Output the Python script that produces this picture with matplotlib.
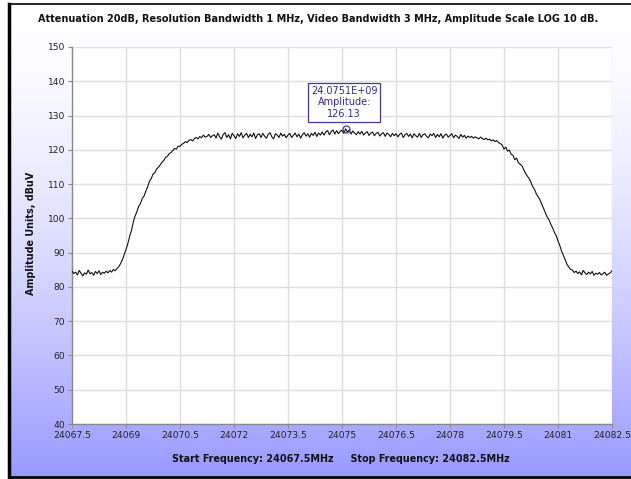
import numpy as np
import matplotlib
matplotlib.use("Agg")
import matplotlib.pyplot as plt
from matplotlib.lines import Line2D

# ---- data -----------------------------------------------------------
start_mhz = 24067.5
stop_mhz = 24082.5
n_points = 301

amplitude = [
    84.6, 83.9, 84.3, 83.5, 84.8, 84.0, 83.2, 84.1, 83.7, 84.9, 83.8, 84.2, 83.4, 84.5, 83.9, 84.7, 83.6, 84.3, 84.0, 84.6,
    84.1, 84.8, 84.3, 85.1, 84.7, 85.4, 85.9, 86.8, 87.9, 89.4, 90.9, 92.6, 94.7, 96.4, 98.8, 100.6, 101.9, 103.5, 104.3, 105.8,
    106.5, 107.9, 109.2, 110.8, 111.6, 112.9, 113.3, 114.4, 114.9, 115.6, 116.4, 116.9, 117.8, 118.1, 118.9, 119.2, 119.8, 120.4, 120.2, 121.1,
    121.0, 121.6, 121.9, 122.4, 122.1, 122.8, 123.0, 122.6, 123.3, 123.6, 123.2, 123.9, 123.5, 124.3, 123.7, 123.9, 124.5, 123.6, 124.1, 124.4,
    123.4, 124.9, 123.8, 123.1, 124.5, 125.0, 123.6, 124.4, 123.2, 124.8, 124.1, 123.3, 124.7, 123.9, 125.0, 123.5, 124.3, 124.8, 123.6, 124.5,
    123.8, 124.9, 123.3, 124.4, 124.7, 123.6, 124.8, 124.0, 123.4, 124.5, 125.0, 123.8, 123.2, 124.7, 124.3, 123.6, 124.9, 124.0, 124.5, 123.5,
    124.3, 124.8, 123.6, 124.2, 124.9, 123.8, 124.6, 123.4, 124.4, 125.0, 124.0, 124.7, 123.7, 124.8, 124.2, 125.1, 123.9, 124.9, 124.3, 125.2,
    124.3, 125.2, 125.6, 124.4, 125.3, 125.8, 124.6, 125.6, 124.7, 125.4, 125.7, 124.8, 126.13, 125.2, 125.8, 124.6, 125.5, 124.9, 124.4, 125.3,
    124.6, 125.4, 124.3, 124.9, 125.3, 124.2, 124.9, 125.2, 124.1, 124.8, 125.1, 124.0, 124.7, 125.0, 123.9, 124.9, 124.5, 123.8, 124.8, 124.1,
    124.7, 123.8, 124.5, 124.9, 123.6, 124.4, 124.8, 123.9, 124.6, 123.5, 124.7, 124.1, 123.7, 124.8, 123.6, 124.4, 124.7, 123.9, 123.5, 124.6,
    124.1, 124.8, 123.6, 124.5, 123.8, 124.7, 123.4, 124.3, 124.6, 123.7, 124.2, 124.7, 123.5, 124.3, 123.9, 123.3, 124.5, 123.7, 124.2, 123.4,
    124.0, 123.6, 123.9, 123.4, 123.8, 123.5, 123.2, 123.7, 123.3, 123.0, 123.4, 122.9, 123.1, 122.6, 122.9, 122.4, 122.7, 122.1, 121.8, 121.4,
    120.2, 120.8, 119.6, 119.9, 118.7, 118.4, 117.1, 117.6, 116.2, 115.8, 115.3, 114.2, 113.1, 112.3, 111.6, 110.5, 109.2, 108.4, 107.1, 106.3,
    105.4, 104.1, 102.9, 101.6, 100.4, 99.6, 98.3, 97.2, 95.9, 95.0, 93.4, 92.1, 90.4, 89.2, 87.9, 86.6, 85.8, 85.1, 84.9, 84.2,
    84.6, 83.9, 84.4, 83.5, 84.8, 84.1, 83.6, 84.3, 83.8, 84.5, 83.4, 84.0, 83.7, 84.2, 83.5, 83.9, 84.3, 83.4, 83.8, 84.1,
    84.7,
]

x_ticks = [24067.5, 24069, 24070.5, 24072, 24073.5, 24075, 24076.5, 24078, 24079.5, 24081, 24082.5]
x_tick_labels = ["24067.5", "24069", "24070.5", "24072", "24073.5", "24075",
                 "24076.5", "24078", "24079.5", "24081", "24082.5"]
y_ticks = [40, 50, 60, 70, 80, 90, 100, 110, 120, 130, 140, 150]

peak_freq = 24075.1
peak_value = 126.13
peak_label = "24.0751E+09\nAmplitude:\n126.13"

title = "Attenuation 20dB, Resolution Bandwidth 1 MHz, Video Bandwidth 3 MHz, Amplitude Scale LOG 10 dB."
x_label = "Start Frequency: 24067.5MHz     Stop Frequency: 24082.5MHz"
y_label = "Amplitude Units, dBuV"

freqs = np.linspace(start_mhz, stop_mhz, n_points)

# ---- figure ---------------------------------------------------------
W, H = 631, 479
fig = plt.figure(figsize=(W / 100, H / 100), dpi=100)
fig.patch.set_facecolor("white")

# gradient panel background
bg = fig.add_axes([0, 0, 1, 1], zorder=-5)
bg.set_xlim(0, W)
bg.set_ylim(H, 0)
bg.axis("off")
t = np.linspace(0, 1, 256) ** 1.6
top_c = np.array([1.0, 1.0, 1.0])
bot_c = np.array([0.60, 0.60, 1.0])
grad = (top_c[None, :] * (1 - t[:, None]) + bot_c[None, :] * t[:, None])[:, None, :]
bg.imshow(grad, extent=(9, W, 476, 4), aspect="auto", interpolation="bilinear")
bg.add_line(Line2D([8.5, W], [4, 4], color="black", lw=1.2))
bg.add_line(Line2D([8.5, W], [476.5, 476.5], color="black", lw=2.0))
bg.add_line(Line2D([8.5, 8.5], [4, 477], color="black", lw=2.5))

L, R, T, B = 72, 612, 47, 424
ax = fig.add_axes([L / W, (H - B) / H, (R - L) / W, (B - T) / H])
ax.set_facecolor("white")
ax.plot(freqs, amplitude, color="#111111", lw=0.8, zorder=3)

ax.set_xlim(start_mhz, stop_mhz)
ax.set_ylim(40, 150)
ax.set_xticks(x_ticks)
ax.set_xticklabels(x_tick_labels)
ax.set_yticks(y_ticks)
ax.grid(True, color="#dedede", lw=1.0, zorder=0)
ax.set_axisbelow(True)
for s in ["top", "right"]:
    ax.spines[s].set_visible(False)
for s in ["left", "bottom"]:
    ax.spines[s].set_color("#8a8a8a")
    ax.spines[s].set_linewidth(1.0)
ax.tick_params(direction="out", length=3, width=0.8, color="#8a8a8a",
               labelsize=6.6, labelcolor="#222222", pad=2)

# peak marker + annotation
ax.plot([peak_freq], [peak_value], marker="o", ms=5, mfc="none", mec="#3a3aa8",
        mew=0.9, zorder=4)
ax.annotate(peak_label, xy=(peak_freq, peak_value), xytext=(-1, 19),
            textcoords="offset points", ha="center", va="center",
            fontsize=7, color="#2c2c96", linespacing=1.15,
            bbox=dict(boxstyle="square,pad=0.3", fc="white", ec="#3a3aa8", lw=0.9),
            zorder=5)

fig.text(318 / W, 1 - 19 / H, title, ha="center", va="center",
         fontsize=7.0, fontweight="bold", color="#111111")
fig.text(341 / W, 1 - 459 / H, x_label, ha="center", va="center",
         fontsize=6.9, fontweight="bold", color="#111111")
fig.text(31 / W, 1 - 233 / H, y_label, ha="center", va="center", rotation=90,
         fontsize=6.9, fontweight="bold", color="#111111")

fig.savefig("out.png", dpi=100)
